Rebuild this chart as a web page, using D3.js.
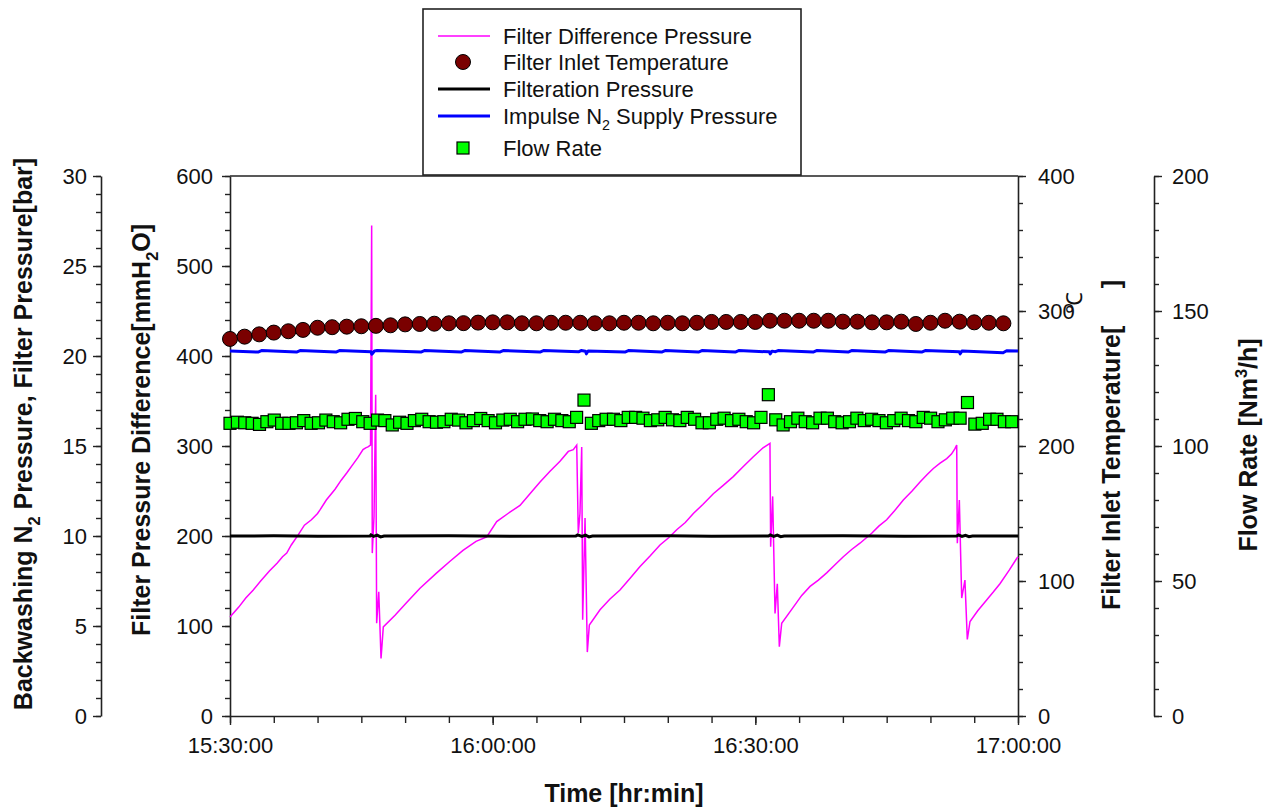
<!DOCTYPE html>
<html>
<head>
<meta charset="utf-8">
<script src="https://cdn.jsdelivr.net/npm/d3@7"></script>
<style>
  body { margin: 0; background: #fff; }
  svg text { font-family: Arial, "Liberation Sans", sans-serif; fill: #111; }
</style>
</head>
<body>
<svg id="chart" width="1267" height="809"></svg>
<script>
// minutes after 15:30:00, mmH2O
let diffPressure = [[0,110],[1.0,121],[1.8,131],[2.66,140],[3.5,150],[4.5,161],[5.4,170],[6.0,177],[6.48,181],[7.0,190],[7.77,201],[8.5,212],[9.3,218],[10.0,225],[10.28,229],[11.0,240],[12.0,252],[12.7,262],[13.33,270],[14.0,279],[14.6,287],[15.19,296],[15.5,298],[15.76,299],[16.05,301],[16.18,545],[16.25,181],[16.45,222],[16.64,357],[16.75,103],[16.99,138],[17.25,64],[17.51,99],[18.85,112],[20.18,126],[21.70,142],[23.61,159],[25.13,172],[26.61,184],[28.10,194],[29.32,199],[30.46,216],[31.75,225],[33.12,234],[34.26,247],[35.41,260],[36.55,272],[37.69,283],[38.64,294],[39.21,296],[39.60,301],[39.78,203],[39.97,225],[40.17,299],[40.28,107],[40.55,220],[40.81,71],[41.04,101],[42.26,118],[43.40,130],[44.54,140],[45.7,153],[46.83,166],[48.0,178],[49.11,190],[50.1,198],[51.02,207],[52.0,215],[52.92,225],[54.0,235],[55.20,247],[56.3,256],[57.48,266],[58.6,277],[59.77,288],[60.88,298],[61.67,303],[61.75,188],[61.98,244],[62.25,114],[62.51,147],[62.74,77],[63.01,103],[64.34,121],[65.3,134],[66.25,144],[67.2,151],[68.15,159],[69.1,168],[70.05,177],[71.0,185],[71.95,192],[73.29,203],[74.1,211],[75.0,218],[75.9,228],[76.9,240],[77.9,250],[78.81,260],[79.6,268],[80.33,275],[81.1,281],[81.86,286],[82.4,291],[82.8,297],[83.0,301],[83.07,192],[83.3,240],[83.57,131],[83.94,151],[84.21,85],[84.52,105],[85.4,117],[86.42,129],[87.2,138],[87.94,147],[89.0,162],[89.85,175],[90,177]];

// one reading every 100 s, deg C
let tempStep = 100 / 60;
let inletTemp = [279.3,281.0,282.7,284.0,285.0,286.0,287.6,288.0,288.4,288.7,289.0,289.4,290.1,290.4,290.6,290.9,291.0,291.4,291.6,291.6,290.9,290.9,291.3,291.3,291.3,290.9,290.9,291.3,291.3,290.9,291.3,290.9,291.3,291.9,291.9,291.9,291.9,292.8,292.8,292.8,292.8,292.8,292.1,292.1,291.6,291.6,292.1,290.4,291.3,292.8,292.1,291.6,291.3,290.9];

// bar
let filtPressure = [[0,10.0],[5,10.01],[10,9.99],[16.0,10.0],[16.1,10.06],[16.4,9.98],[16.8,10.05],[17.2,9.95],[17.6,10.0],[25,10.01],[32,9.99],[39.5,10.0],[39.7,10.06],[40.2,9.98],[40.6,10.05],[41.0,9.95],[41.4,10.0],[50,10.01],[55,9.99],[61.5,10.0],[61.7,10.06],[62.1,9.98],[62.5,10.05],[62.9,9.96],[63.3,10.0],[70,10.01],[77,9.99],[83.0,10.0],[83.2,10.06],[83.6,9.98],[84.0,10.04],[84.4,9.96],[84.8,10.0],[90,10.0]];

let impulsePressure = [[0,20.28],[3.2,20.22],[3.6,20.30],[7.6,20.22],[8.0,20.30],[12.1,20.22],[12.5,20.30],[16.1,20.23],[16.2,20.10],[16.5,20.28],[16.8,20.30],[21.8,20.22],[22.2,20.30],[26.4,20.22],[26.8,20.30],[30.8,20.22],[31.2,20.30],[35.4,20.22],[35.8,20.30],[39.8,20.23],[40.1,20.30],[40.6,20.26],[40.7,20.12],[40.9,20.28],[45.1,20.22],[45.5,20.30],[49.3,20.22],[49.7,20.30],[53.5,20.22],[53.9,20.30],[57.7,20.22],[58.1,20.30],[61.6,20.23],[61.7,20.12],[61.9,20.27],[62.3,20.24],[62.6,20.30],[66.6,20.22],[67.0,20.30],[70.6,20.22],[71.0,20.30],[74.8,20.22],[75.2,20.30],[79.0,20.22],[79.4,20.30],[83.3,20.23],[83.4,20.12],[83.6,20.28],[88.3,20.18],[88.7,20.29],[90,20.28]];

// Nm3/h, one reading about every 50 s
let flowStep = 0.8423;
let flowRate = [108.4,108.8,108.6,108.4,108.0,109.0,109.6,108.4,108.4,108.6,109.4,108.4,108.6,109.6,109.0,108.6,109.9,110.2,109.0,108.4,109.6,109.4,107.8,108.8,108.4,109.4,109.9,109.0,108.8,109.0,109.9,109.6,108.6,109.4,110.2,109.4,108.6,109.6,109.9,
  109.0,109.9,110.0,109.4,109.0,109.9,109.4,109.0,110.6,117.0,
  108.4,109.4,109.9,109.9,109.4,110.6,110.6,110.3,109.4,109.7,110.6,109.7,109.4,110.6,109.9,108.6,108.6,109.9,110.3,109.4,109.9,109.0,108.6,110.6,119.0,
  109.7,107.8,109.0,110.3,109.0,108.6,110.3,110.3,109.0,108.6,109.0,110.3,109.4,109.9,109.4,108.6,109.4,110.3,109.4,109.0,110.6,110.3,109.0,109.7,110.3,110.3,116.1,
  108.1,108.4,109.9,109.9,109.0,109.0];

let start = new Date(2000, 0, 1, 15, 30, 0);
let end = new Date(2000, 0, 1, 17, 0, 0);
let tm = (m) => new Date(start.getTime() + m * 60000);

let plotLeft = 230, plotRight = 1018, plotTop = 176, plotBottom = 716;
let svg = d3.select('#chart');

let x = d3.scaleTime().domain([start, end]).range([plotLeft, plotRight]);
let yDiff = d3.scaleLinear().domain([0, 600]).range([plotBottom, plotTop]);
let yBar = d3.scaleLinear().domain([0, 30]).range([plotBottom, plotTop]);
let yTemp = d3.scaleLinear().domain([0, 400]).range([plotBottom, plotTop]);
let yFlow = d3.scaleLinear().domain([0, 200]).range([plotBottom, plotTop]);

function styleAxis(g) {
    g.select('.domain').attr('stroke', '#222').attr('stroke-width', 1.6);
    g.selectAll('.tick line').attr('stroke', '#222').attr('stroke-width', 1.4);
    g.selectAll('.tick text').style('font-size', '22px').attr('fill', '#111');
}

function yAxis(axisFn, scale, xPos, major, minor, pad) {
    let g = svg.append('g').attr('transform', 'translate(' + xPos + ',0)');
    g.call(axisFn(scale).tickValues(d3.range(scale.domain()[0], scale.domain()[1] + 0.001, minor))
        .tickSize(5).tickSizeOuter(0).tickFormat(''));
    g.selectAll('.domain').remove();
    let g2 = svg.append('g').attr('transform', 'translate(' + xPos + ',0)');
    g2.call(axisFn(scale).tickValues(d3.range(scale.domain()[0], scale.domain()[1] + 0.001, major))
        .tickSize(8).tickSizeOuter(0).tickPadding(pad));
    styleAxis(g);
    styleAxis(g2);
}

yAxis(d3.axisLeft, yBar, 101, 5, 1, 6);
yAxis(d3.axisLeft, yDiff, plotLeft, 100, 20, 9);
yAxis(d3.axisRight, yTemp, plotRight, 100, 20, 12);
yAxis(d3.axisRight, yFlow, 1154, 50, 10, 10);

let gxMinor = svg.append('g').attr('transform', 'translate(0,' + plotBottom + ')')
    .call(d3.axisBottom(x).ticks(d3.timeMinute.every(5)).tickSize(7).tickSizeOuter(0).tickFormat(''));
gxMinor.select('.domain').remove();
styleAxis(gxMinor);
let gx = svg.append('g').attr('transform', 'translate(0,' + plotBottom + ')')
    .call(d3.axisBottom(x).ticks(d3.timeMinute.every(30)).tickSize(9).tickSizeOuter(0)
        .tickPadding(12).tickFormat(d3.timeFormat('%H:%M:%S')));
styleAxis(gx);

// top frame
svg.append('line').attr('x1', plotLeft).attr('x2', plotRight).attr('y1', plotTop).attr('y2', plotTop)
    .attr('stroke', '#222').attr('stroke-width', 1.6);

// series
let pairLine = (scale) => d3.line().x((d) => x(tm(d[0]))).y((d) => scale(d[1]));

svg.append('path').datum(diffPressure)
    .attr('d', pairLine(yDiff))
    .attr('fill', 'none').attr('stroke', '#ff00ff').attr('stroke-width', 1.5);

svg.append('path').datum(filtPressure)
    .attr('d', pairLine(yBar))
    .attr('fill', 'none').attr('stroke', '#000').attr('stroke-width', 3);

svg.append('path').datum(impulsePressure)
    .attr('d', pairLine(yBar))
    .attr('fill', 'none').attr('stroke', '#0000ff').attr('stroke-width', 3)
    .attr('stroke-linejoin', 'round');

svg.selectAll('.temp')
    .data(inletTemp)
    .enter()
    .append('circle')
    .attr('class', 'temp')
    .attr('cx', (d, i) => x(tm(i * tempStep)))
    .attr('cy', (d) => yTemp(d))
    .attr('r', 7.5)
    .attr('fill', '#7a0000').attr('stroke', '#000').attr('stroke-width', 1);

svg.selectAll('.flow')
    .data(flowRate)
    .enter()
    .append('rect')
    .attr('class', 'flow')
    .attr('x', (d, i) => x(tm(i * flowStep)) - 6)
    .attr('y', (d) => yFlow(d) - 6)
    .attr('width', 12).attr('height', 12)
    .attr('fill', '#00ff00').attr('stroke', '#000').attr('stroke-width', 1.2);

// text with sub / superscripts
function addParts(t, parts, fs) {
    let shift = 0;
    parts.forEach((p) => {
        let s = t.append('tspan').text(p[0]);
        let target = p[1] === 'sub' ? fs * 0.3 : p[1] === 'sup' ? -fs * 0.42 : 0;
        if (p[1]) s.style('font-size', (fs * 0.65) + 'px');
        s.attr('dy', target - shift);
        shift = target;
    });
}

function title(tx, ty, rot, parts) {
    let t = svg.append('text')
        .attr('transform', 'translate(' + tx + ',' + ty + ')' + (rot ? ' rotate(' + rot + ')' : ''))
        .attr('text-anchor', 'middle')
        .style('font-size', '25px').style('font-weight', 'bold').style('white-space', 'pre');
    addParts(t, parts, 25);
}

title(624, 802, 0, [['Time [hr:min]']]);
title(32, 434, -90, [['Backwashing N'], ['2', 'sub'], [' Pressure, Filter Pressure[bar]']]);
title(150, 430, -90, [['Filter Pressure Difference[mmH'], ['2', 'sub'], ['O]']]);
title(1120, 445, -90, [['Filter Inlet Temperature[\u2003\u2002]']]);
title(1257, 445, -90, [['Flow Rate [Nm'], ['3', 'sup'], ['/h]']]);

svg.append('text')
    .attr('transform', 'translate(1082,303) rotate(-90)')
    .attr('text-anchor', 'middle')
    .style('font-size', '22px')
    .text('\u2103');

// legend
let legend = svg.append('g');
legend.append('rect').attr('x', 423).attr('y', 9).attr('width', 378).attr('height', 166)
    .attr('fill', '#fff').attr('stroke', '#222').attr('stroke-width', 1.6);

let legendRows = [36, 62, 89, 116, 148];
legend.append('line').attr('x1', 438).attr('x2', 490).attr('y1', legendRows[0]).attr('y2', legendRows[0])
    .attr('stroke', '#ff00ff').attr('stroke-width', 1.5);
legend.append('circle').attr('cx', 463).attr('cy', legendRows[1]).attr('r', 7.5)
    .attr('fill', '#7a0000').attr('stroke', '#000');
legend.append('line').attr('x1', 438).attr('x2', 490).attr('y1', legendRows[2]).attr('y2', legendRows[2])
    .attr('stroke', '#000').attr('stroke-width', 3);
legend.append('line').attr('x1', 438).attr('x2', 490).attr('y1', legendRows[3]).attr('y2', legendRows[3])
    .attr('stroke', '#0000ff').attr('stroke-width', 3);
legend.append('rect').attr('x', 457).attr('y', legendRows[4] - 6).attr('width', 12).attr('height', 12)
    .attr('fill', '#00ff00').attr('stroke', '#000').attr('stroke-width', 1.2);

let legendText = [
    [['Filter Difference Pressure']],
    [['Filter Inlet Temperature']],
    [['Filteration Pressure']],
    [['Impulse N'], ['2', 'sub'], [' Supply Pressure']],
    [['Flow Rate']]
];
legendText.forEach((parts, i) => {
    let t = legend.append('text').attr('x', 503).attr('y', legendRows[i] + 7.5).style('font-size', '22px');
    addParts(t, parts, 22);
});
</script>
</body>
</html>
